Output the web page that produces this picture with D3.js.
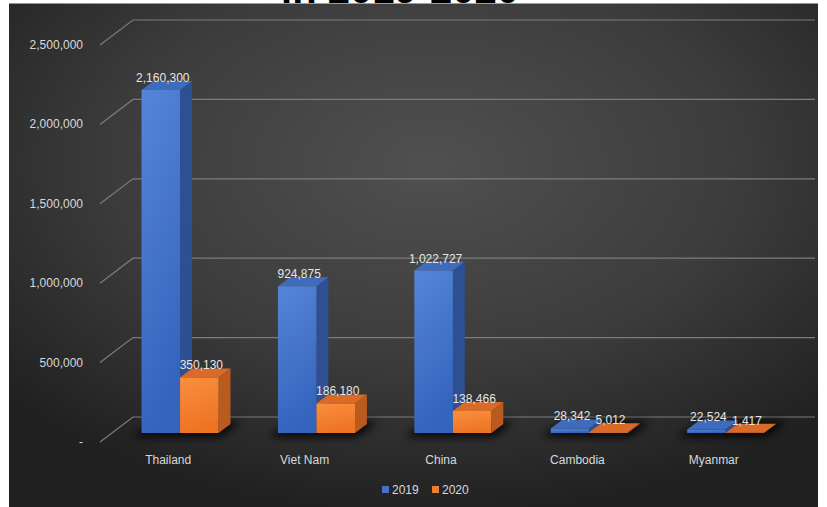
<!DOCTYPE html>
<html>
<head>
<meta charset="utf-8">
<script src="https://cdn.jsdelivr.net/npm/d3@7"></script>
<style>
  html, body { margin: 0; padding: 0; background: #ffffff; }
  svg { display: block; }
  text { font-family: "Liberation Sans", Arial, sans-serif; }
</style>
</head>
<body>
<svg id="chart" width="827" height="507"></svg>
<script>
// Visitor numbers by country, 2019 vs 2020
const categories = ["Thailand", "Viet Nam", "China", "Cambodia", "Myanmar"];
const seriesNames = ["2019", "2020"];
const values2019 = [2160300, 924875, 1022727, 28342, 22524];
const values2020 = [350130, 186180, 138466, 5012, 1417];
const yTicks = [0, 500000, 1000000, 1500000, 2000000, 2500000];
const titleText = "in 2019-2020";

const W = 827, H = 507;
const svg = d3.select("#chart");
const defs = svg.append("defs");

// Panel background: soft radial glow on charcoal
const bg = defs.append("radialGradient").attr("id", "bgGrad")
  .attr("cx", "52%").attr("cy", "32%").attr("r", "70%");
bg.append("stop").attr("offset", "0%").attr("stop-color", "#505050");
bg.append("stop").attr("offset", "55%").attr("stop-color", "#3c3c3c");
bg.append("stop").attr("offset", "100%").attr("stop-color", "#202020");

function faceGradient(id, top, bottom) {
  const g = defs.append("linearGradient").attr("id", id)
    .attr("x1", "0").attr("y1", "0").attr("x2", "0.25").attr("y2", "1");
  g.append("stop").attr("offset", "0%").attr("stop-color", top);
  g.append("stop").attr("offset", "100%").attr("stop-color", bottom);
}
faceGradient("front2019", "#5585d8", "#3564bd");
faceGradient("front2020", "#f98f3e", "#ee7424");

const blur = defs.append("filter").attr("id", "shadowBlur")
  .attr("x", "-50%").attr("y", "-50%").attr("width", "200%").attr("height", "200%");
blur.append("feGaussianBlur").attr("stdDeviation", 4);

const palette = {
  "2019": { front: "url(#front2019)", top: "#3f6bbd", side: "#2c5091", key: "#4472c4" },
  "2020": { front: "url(#front2020)", top: "#d96a27", side: "#b95a1f", key: "#ed7d31" }
};

// Title (sits above the panel, only its lower edge shows)
svg.append("text")
  .attr("x", 400).attr("y", 3)
  .attr("text-anchor", "middle")
  .attr("font-size", 40).attr("font-weight", "bold")
  .attr("fill", "#000")
  .text(titleText);

// Panel
svg.append("rect")
  .attr("x", 9).attr("y", 3.5).attr("width", 809).attr("height", H - 3.5)
  .attr("fill", "url(#bgGrad)");

// Front plane scales plus an oblique depth vector for the 3D look
const x = d3.scaleBand().domain(categories).range([100, 782]);
const y = d3.scaleLinear().domain([0, 2500000]).range([442, 45]);
const depth = { dx: 33, dy: -25 };
const proj = (px, py, f) => [px + depth.dx * f, py + depth.dy * f];
const wallRight = 815;

// Side wall diagonals and back wall gridlines
const grid = svg.append("g");
yTicks.forEach(t => {
  const a = proj(x.range()[0], y(t), 0);
  const b = proj(x.range()[0], y(t), 1);
  grid.append("path")
    .attr("d", `M${a[0]},${a[1]}L${b[0]},${b[1]}L${wallRight},${b[1]}`)
    .attr("fill", "none").attr("stroke", "#7c7c7c").attr("stroke-width", 1.2);
});

// Y axis labels
const fmt = d3.format(",");
svg.append("g").selectAll("text").data(yTicks).join("text")
  .attr("x", 83).attr("y", d => y(d) + 4)
  .attr("text-anchor", "end")
  .attr("font-size", 12).attr("fill", "#d9d9d9")
  .text(d => d === 0 ? "-" : fmt(d));

// Bars
const groupFrac = 0.565;
const x1 = d3.scaleBand().domain(seriesNames)
  .range([0, x.bandwidth() * groupFrac]);
const f0 = 0.36, f1 = 0.72;
const rows = categories.map((c, i) => ({
  cat: c,
  vals: [
    { s: "2019", v: values2019[i] },
    { s: "2020", v: values2020[i] }
  ]
}));

const poly = pts => "M" + pts.map(p => p.join(",")).join("L") + "Z";

// Shadows on the floor under each group
const shadowG = svg.append("g").attr("filter", "url(#shadowBlur)");
rows.forEach(r => {
  const gx0 = x(r.cat) + (x.bandwidth() * (1 - groupFrac)) / 2;
  const gx1 = gx0 + x.bandwidth() * groupFrac;
  const pts = [
    proj(gx0 - 10, y(0) + 4, f0),
    proj(gx1 + 2, y(0) + 4, f0),
    proj(gx1 + 8, y(0), f1 + 0.1),
    proj(gx0 - 2, y(0), f1 + 0.1)
  ];
  shadowG.append("path").attr("d", poly(pts))
    .attr("fill", "#000").attr("opacity", 0.85);
});

const barsG = svg.append("g");
const labelsG = svg.append("g");
rows.forEach(r => {
  const gx0 = x(r.cat) + (x.bandwidth() * (1 - groupFrac)) / 2;
  r.vals.forEach(d => {
    const bx0 = gx0 + x1(d.s);
    const bx1 = bx0 + x1.bandwidth();
    const yt = y(d.v), yb = y(0);
    const c = palette[d.s];
    const FL_T = proj(bx0, yt, f0), FR_T = proj(bx1, yt, f0);
    const FL_B = proj(bx0, yb, f0), FR_B = proj(bx1, yb, f0);
    const BL_T = proj(bx0, yt, f1), BR_T = proj(bx1, yt, f1);
    const BR_B = proj(bx1, yb, f1);
    barsG.append("path").attr("d", poly([FR_T, BR_T, BR_B, FR_B])).attr("fill", c.side);
    barsG.append("path").attr("d", poly([FL_T, FR_T, BR_T, BL_T])).attr("fill", c.top);
    barsG.append("path").attr("d", poly([FL_T, FR_T, FR_B, FL_B])).attr("fill", c.front);
    labelsG.append("text")
      .attr("x", (FL_T[0] + FR_T[0]) / 2 + 2)
      .attr("y", BL_T[1] + 1)
      .attr("text-anchor", "middle")
      .attr("font-size", 12).attr("fill", "#e6e6e6")
      .text(fmt(d.v));
  });
});

// Category labels
svg.append("g").selectAll("text").data(categories).join("text")
  .attr("x", d => x(d) + x.bandwidth() / 2)
  .attr("y", 464)
  .attr("text-anchor", "middle")
  .attr("font-size", 12).attr("fill", "#d9d9d9")
  .text(d => d);

// Legend
const legend = svg.append("g");
const legendX = [382, 432];
seriesNames.forEach((s, i) => {
  legend.append("rect")
    .attr("x", legendX[i]).attr("y", 486).attr("width", 7).attr("height", 7)
    .attr("fill", palette[s].key);
  legend.append("text")
    .attr("x", legendX[i] + 10).attr("y", 494)
    .attr("font-size", 12).attr("fill", "#d9d9d9")
    .text(s);
});
</script>
</body>
</html>
